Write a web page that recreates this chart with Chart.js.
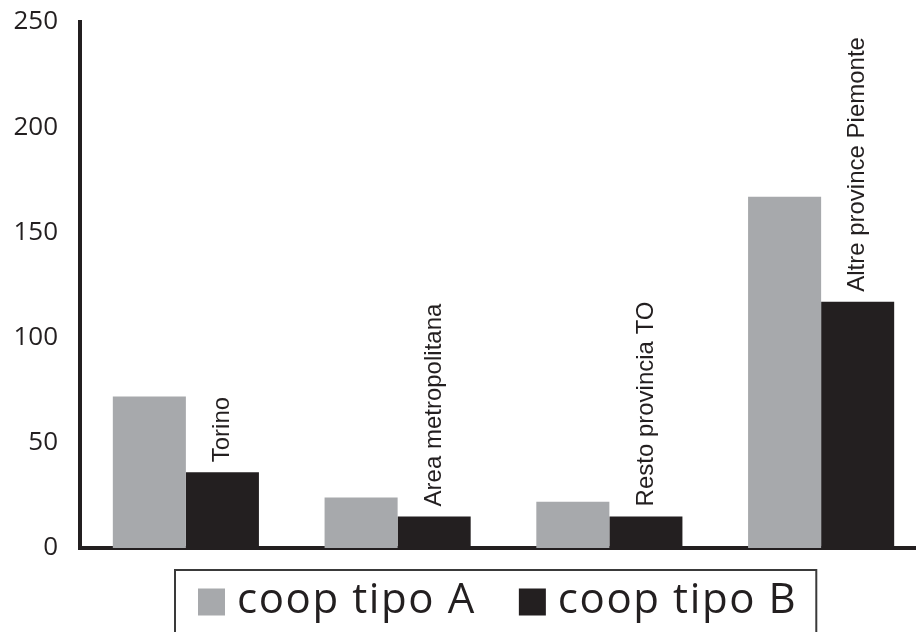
<!DOCTYPE html>
<html>
<head>
<meta charset="utf-8">
<script src="https://cdn.jsdelivr.net/npm/chart.js@4/dist/chart.umd.min.js"></script>
<style>
  html, body { margin: 0; padding: 0; background: #fff; overflow: hidden; }
  #wrap { width: 930px; height: 632px; }
</style>
</head>
<body>
<div id="wrap"><canvas id="chart"></canvas></div>
<script>
const areas = ["Torino", "Area metropolitana", "Resto provincia TO", "Altre province Piemonte"];
const coopA = [72, 24, 22, 167];
const coopB = [36, 15, 15, 117];
const yTicks = [0, 50, 100, 150, 200, 250];

const GREY = "#a7a9ac";
const DARK = "#231f20";

// area names written vertically above the second bar of each group
const areaLabels = {
	id: "areaLabels",
	afterDatasetsDraw(chart) {
		const ctx = chart.ctx;
		const meta = chart.getDatasetMeta(1);
		ctx.save();
		ctx.fillStyle = DARK;
		ctx.font = "24px 'Liberation Sans', Arial, sans-serif";
		ctx.textAlign = "left";
		ctx.textBaseline = "middle";
		meta.data.forEach((bar, i) => {
			ctx.save();
			ctx.translate(bar.x, bar.y - 10);
			ctx.rotate(-Math.PI / 2);
			ctx.fillText(chart.data.labels[i], 0, 0);
			ctx.restore();
		});
		ctx.restore();
	}
};

// boxed legend under the plot
const boxLegend = {
	id: "boxLegend",
	afterDraw(chart) {
		const ctx = chart.ctx;
		const area = chart.chartArea;
		const left = area.left + 95;
		const top = area.bottom + 22;
		const sq = 27;
		ctx.save();
		ctx.font = "42px 'Open Sans', sans-serif";
		ctx.letterSpacing = "1.6px";
		ctx.textBaseline = "middle";
		let x = left + 23;
		const cy = top + 32;
		chart.data.datasets.forEach((ds, i) => {
			ctx.fillStyle = ds.backgroundColor;
			ctx.fillRect(x, cy - sq / 2, sq, sq);
			x += sq + 12;
			ctx.fillStyle = DARK;
			ctx.fillText(ds.label, x, cy - 1);
			x += ctx.measureText(ds.label).width + 43;
		});
		const right = x - 43 + 19;
		ctx.strokeStyle = "#3a3a3a";
		ctx.lineWidth = 2;
		ctx.strokeRect(left, top, right - left, 80);
		ctx.restore();
	}
};

new Chart(document.getElementById("chart"), {
	type: "bar",
	data: {
		labels: areas,
		datasets: [
			{ label: "coop tipo A", data: coopA, backgroundColor: GREY },
			{ label: "coop tipo B", data: coopB, backgroundColor: DARK }
		]
	},
	options: {
		responsive: true,
		maintainAspectRatio: false,
		animation: false,
		categoryPercentage: 0.69,
		barPercentage: 1.0,
		layout: { padding: { top: 22, right: 3, bottom: 84, left: 0 } },
		plugins: {
			legend: { display: false },
			tooltip: { enabled: false }
		},
		scales: {
			x: {
				offset: true,
				grid: { display: false, drawTicks: false },
				border: { display: true, color: DARK, width: 4 },
				ticks: { display: false }
			},
			y: {
				min: 0,
				max: 250,
				afterBuildTicks(scale) {
					scale.ticks = yTicks.map(v => ({ value: v }));
				},
				afterFit(scale) {
					scale.width = 80;
					scale.paddingTop = 0;
					scale.paddingBottom = 0;
				},
				grid: { display: false, drawTicks: false },
				border: { display: true, color: DARK, width: 4 },
				ticks: {
					padding: 22,
					color: DARK,
					font: { family: "'Open Sans', sans-serif", size: 26 }
				}
			}
		}
	},
	plugins: [areaLabels, boxLegend]
});
</script>
</body>
</html>
